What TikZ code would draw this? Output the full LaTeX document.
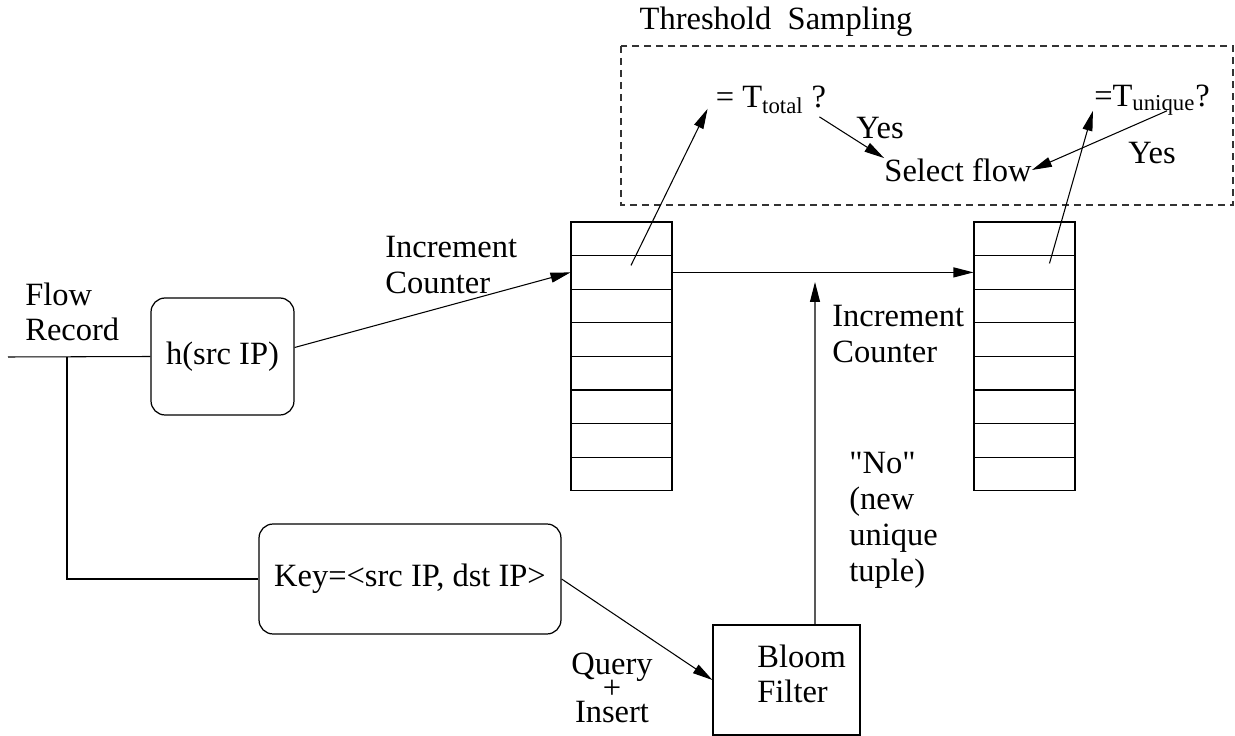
\documentclass[tikz,border=0pt]{standalone}
\usepackage{fontspec}
\setmainfont{Liberation Serif}
\usetikzlibrary{arrows.meta,calc,positioning}
\definecolor{FlowInk}{HTML}{000000}
\definecolor{FlowDash}{HTML}{333333}
\tikzset{
  every node/.style={font=\fontsize{18.5}{20}\selectfont, text=FlowInk, inner sep=0pt},
  cell/.style={draw=FlowInk, line width=0.6pt, minimum width=2.02cm, minimum height=0.672cm},
  procbox/.style={draw=FlowInk, line width=0.7pt, rounded corners=8pt},
  plainbox/.style={draw=FlowInk, line width=0.7pt},
  link/.style={draw=FlowInk, line width=0.6pt},
  arr/.style={-{Triangle[length=0.4cm,width=0.2cm]}, draw=FlowInk, line width=0.6pt},
  region/.style={draw=FlowDash, line width=0.6pt, dash pattern=on 0.14cm off 0.1cm},
  lbl/.style={align=left, anchor=west},
}

\begin{document}
\begin{tikzpicture}[x=0.02cm,y=-0.02cm]
  \useasboundingbox (0,0) rectangle (1235,736);
  % Threshold sampling region
  \draw[region] (621,46) rectangle (1233,205);
  \node (thtitle) at (776,22) {Threshold\ \ Sampling};
  \node (tot) at (771,100) {= T\textsubscript{total} ?};
  \node (uniq) at (1152,100) {=T\textsubscript{unique}?};
  \node (select) at (958,170) {Select flow};
  \node (yes1) at (880,128) {Yes};
  \node (yes2) at (1152,153) {Yes};
  % Counter arrays
  \foreach \i in {1,...,8} {
    \node[cell] (L\i) at (621.5,{222+33.6*(\i-0.5)}) {};
    \node[cell] (R\i) at (1024.5,{222+33.6*(\i-0.5)}) {};
  }
  % Inputs
  \node[lbl, align=left] (rec) at (25,312) {Flow\\[-0.5pt]Record};
  \node[procbox, minimum width=2.86cm, minimum height=2.34cm] (hbox) at (222.5,356.5) {h(src IP)};
  \node[procbox, minimum width=6.04cm, minimum height=2.2cm] (keybox) at (410,579) {Key=<src IP, dst IP>};
  \node[plainbox, minimum width=2.94cm, minimum height=2.2cm] (bloom) at (786.5,680) {};
  \node[lbl] (bltext) at (757,674) {Bloom\\Filter};
  % Labels
  \node[lbl] (inc1) at (385,265) {Increment\\Counter};
  \node[lbl] (inc2) at (832,334) {Increment\\Counter};
  \node[lbl] (nolbl) at (849,520) {\textquotedbl No\textquotedbl\\[0.5pt](new\\[0.5pt]unique\\[0.5pt]tuple)};
  \node[align=center] (qi) at (612,688) {Query\\[-6.5pt]+\\[-6.5pt]Insert};
  % Connectors
  \coordinate (start) at (8,357);
  \coordinate (split) at (67,357);
  \coordinate (btop) at (815,282);
  \draw[link] (start) -- (hbox.west);
  \draw[link] (split) |- (keybox.west);
  \draw[arr] ([yshift=0.18cm]hbox.east) -- (L2.west);
  \draw[arr] (L2.east) -- (R2.west);
  \draw[arr] ([xshift=0.57cm]bloom.north) -- (btop);
  \draw[arr] (keybox.east) -- (bloom.west);
  \draw[arr] ([xshift=0.19cm,yshift=0.14cm]L2.center) -- ([xshift=-0.16cm,yshift=0.1cm]tot.south west);
  \draw[arr] ([xshift=0.5cm,yshift=0.18cm]R2.center) -- ([xshift=-0.02cm,yshift=0.1cm]uniq.south west);
  \draw[arr] ([xshift=-0.14cm,yshift=-0.06cm]tot.south east) -- (select.north west);
  \draw[arr] ([xshift=0.3cm,yshift=0.1cm]uniq.south) -- (select.east);
\end{tikzpicture}
\end{document}
